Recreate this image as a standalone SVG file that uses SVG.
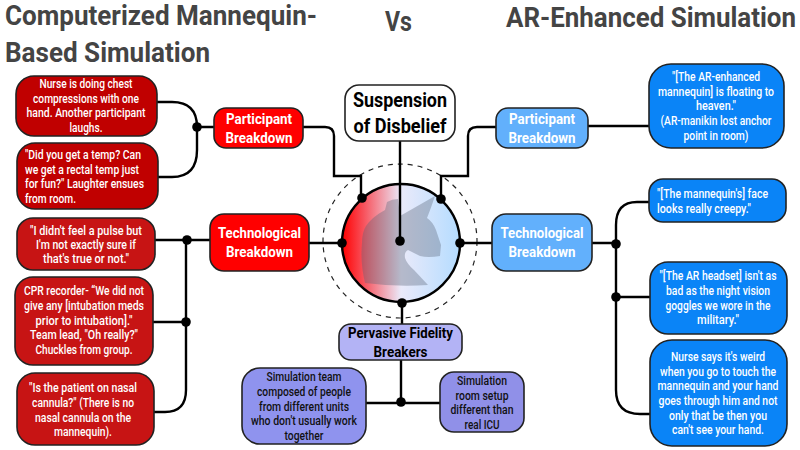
<svg xmlns="http://www.w3.org/2000/svg" width="800" height="450" viewBox="0 0 800 450">
<style>
text{font-family:Roboto,"Liberation Sans",sans-serif;text-anchor:middle}
.title{font-size:27px;font-weight:700;fill:#444;text-anchor:start}
.t{font-size:12.5px;font-weight:500;fill:#fff}
.s{text-anchor:start}
.h{font-size:15.5px;font-weight:700;fill:#fff}
.k{font-size:20px;font-weight:700;fill:#000}
.p{font-size:15.5px;font-weight:700;fill:#000}
.b{font-size:12.5px;font-weight:500;fill:#111}
.box{stroke:#222;stroke-width:1.6}
.red{fill:#c00000}.red2{fill:#c71414}.rh{fill:#ff0000}
.blu{fill:#0a84f7}.bh{fill:#62b0fc}
.line{fill:none;stroke:#000;stroke-width:2.4}
.dot{fill:#000}
</style>
<defs>
<linearGradient id="g" x1="0" x2="1" y1="0" y2="0">
<stop offset="0" stop-color="#ff0000"/><stop offset="0.18" stop-color="#f8505a"/><stop offset="0.5" stop-color="#eaeafa"/><stop offset="1" stop-color="#b4dcff"/>
</linearGradient>
</defs>
<rect width="800" height="450" fill="#fff"/>
<g id="titles">
<text class="title" x="5" y="25" textLength="312" lengthAdjust="spacingAndGlyphs">Computerized Mannequin-</text>
<text class="title" x="5" y="62" textLength="205" lengthAdjust="spacingAndGlyphs">Based Simulation</text>
<text class="title" x="385" y="31" textLength="27" lengthAdjust="spacingAndGlyphs">Vs</text>
<text class="title" x="506" y="27" textLength="290" lengthAdjust="spacingAndGlyphs">AR-Enhanced Simulation</text>
</g>
<g id="hub">
<circle cx="400" cy="241" r="77" fill="none" stroke="#222" stroke-width="1.2" stroke-dasharray="5 5"/>
<circle cx="401" cy="243" r="59" fill="url(#g)" stroke="#000" stroke-width="2.4"/>
<path d="M365,283 Q360,262 362,243 Q362,232 366,226 Q372,217 385,210 L387,202 Q392,199 398,199 L400,216 L435,196 Q431,208 427,218 Q433,222 436,230 L441,245 L440,256 Q428,258 420,256 L408,250 Q404,252 405,258 Q407,264 414,270 L428,285 Q395,287 365,283Z" fill="#5a6478" fill-opacity="0.36"/>
</g>
<g id="connectors">
<path class="line" d="M157,102H172Q197,102 197,127V150Q197,177 172,177H158M197,127H214"/>
<path class="line" d="M303,127H325Q334,127 334,136V176H361V198"/>
<path class="line" d="M400,141V241"/>
<path class="line" d="M496,127H477Q468,127 468,136V176H441V199"/>
<path class="line" d="M588,126H649"/>
<path class="line" d="M155,240H210M309,243H342M460,243H492M592,243H616"/>
<path class="line" d="M153,322H186M154,412H165Q186,412 186,390V240"/>
<path class="line" d="M649,202H637Q616,202 616,225V390Q616,414 640,414H650M616,297H650"/>
<path class="line" d="M402,303V324M401,360V402M366,403H440"/>
<circle class="dot" cx="197" cy="127" r="4.8"/>
<circle class="dot" cx="187" cy="240" r="4.8"/>
<circle class="dot" cx="186" cy="322" r="4.8"/>
<circle class="dot" cx="616" cy="244" r="4.8"/>
<circle class="dot" cx="616" cy="297" r="4.8"/>
<circle class="dot" cx="362" cy="198" r="4.8"/>
<circle class="dot" cx="441" cy="199" r="4.8"/>
<circle class="dot" cx="342" cy="243" r="4.8"/>
<circle class="dot" cx="460" cy="243" r="4.8"/>
<circle class="dot" cx="402" cy="303" r="4.8"/>
<circle class="dot" cx="400" cy="241" r="4.8"/>
<circle class="dot" cx="401" cy="402" r="4.8"/>
</g>
<g id="n-red1"><rect class="box red" x="16" y="76" width="141" height="60" rx="18"/>
<text class="t" x="86" y="88" textLength="93" lengthAdjust="spacingAndGlyphs">Nurse is doing chest</text>
<text class="t" x="86" y="103" textLength="106" lengthAdjust="spacingAndGlyphs">compressions with one</text>
<text class="t" x="86" y="117" textLength="119" lengthAdjust="spacingAndGlyphs">hand. Another participant</text>
<text class="t" x="86" y="132" textLength="33" lengthAdjust="spacingAndGlyphs">laughs.</text></g>
<g id="n-red2"><rect class="box red" x="17" y="143" width="141" height="66" rx="18"/>
<text class="t s" x="25" y="159" textLength="116" lengthAdjust="spacingAndGlyphs">"Did you get a temp? Can</text>
<text class="t s" x="25" y="174" textLength="114" lengthAdjust="spacingAndGlyphs">we get a rectal temp just</text>
<text class="t s" x="25" y="188" textLength="119" lengthAdjust="spacingAndGlyphs">for fun?" Laughter ensues</text>
<text class="t s" x="25" y="203" textLength="51" lengthAdjust="spacingAndGlyphs">from room.</text></g>
<g id="n-red3"><rect class="box red2" x="17" y="218" width="138" height="52" rx="16"/>
<text class="t" x="86" y="235" textLength="112" lengthAdjust="spacingAndGlyphs">"I didn't feel a pulse but</text>
<text class="t" x="86" y="249" textLength="100" lengthAdjust="spacingAndGlyphs">I'm not exactly sure if</text>
<text class="t" x="86" y="263" textLength="86" lengthAdjust="spacingAndGlyphs">that's true or not."</text></g>
<g id="n-red4"><rect class="box red2" x="15" y="277" width="138" height="88" rx="18"/>
<text class="t" x="84" y="295" textLength="120" lengthAdjust="spacingAndGlyphs">CPR recorder- “We did not</text>
<text class="t" x="84" y="310" textLength="120" lengthAdjust="spacingAndGlyphs">give any [intubation meds</text>
<text class="t" x="84" y="325" textLength="97" lengthAdjust="spacingAndGlyphs">prior to intubation]."</text>
<text class="t" x="84" y="339" textLength="108" lengthAdjust="spacingAndGlyphs">Team lead, "Oh really?"</text>
<text class="t" x="84" y="354" textLength="97" lengthAdjust="spacingAndGlyphs">Chuckles from group.</text></g>
<g id="n-red5"><rect class="box red2" x="17" y="373" width="137" height="72" rx="18"/>
<text class="t" x="83" y="392" textLength="108" lengthAdjust="spacingAndGlyphs">"Is the patient on nasal</text>
<text class="t" x="83" y="407" textLength="102" lengthAdjust="spacingAndGlyphs">cannula?" (There is no</text>
<text class="t" x="83" y="422" textLength="96" lengthAdjust="spacingAndGlyphs">nasal cannula on the</text>
<text class="t" x="83" y="436" textLength="58" lengthAdjust="spacingAndGlyphs">mannequin).</text></g>
<g id="n-part-l"><rect class="box rh" x="214" y="108" width="89" height="40" rx="12"/>
<text class="h" x="259" y="124" textLength="66" lengthAdjust="spacingAndGlyphs">Participant</text>
<text class="h" x="259" y="143" textLength="67" lengthAdjust="spacingAndGlyphs">Breakdown</text></g>
<g id="n-tech-l"><rect class="box rh" x="210" y="214" width="99" height="57" rx="14"/>
<text class="h" x="259.500" y="238" textLength="83" lengthAdjust="spacingAndGlyphs">Technological</text>
<text class="h" x="259.500" y="257" textLength="67" lengthAdjust="spacingAndGlyphs">Breakdown</text></g>
<g id="n-suspension"><rect class="box" fill="#fff" x="345" y="85" width="110" height="56" rx="14"/>
<text class="k" x="400" y="107" textLength="94" lengthAdjust="spacingAndGlyphs">Suspension</text>
<text class="k" x="400" y="133" textLength="93" lengthAdjust="spacingAndGlyphs">of Disbelief</text></g>
<g id="n-part-r"><rect class="box bh" x="496" y="108" width="92" height="40" rx="12"/>
<text class="h" x="542" y="124" textLength="66" lengthAdjust="spacingAndGlyphs">Participant</text>
<text class="h" x="542" y="143" textLength="67" lengthAdjust="spacingAndGlyphs">Breakdown</text></g>
<g id="n-tech-r"><rect class="box bh" x="492" y="214" width="100" height="57" rx="14"/>
<text class="h" x="542" y="238" textLength="83" lengthAdjust="spacingAndGlyphs">Technological</text>
<text class="h" x="542" y="257" textLength="67" lengthAdjust="spacingAndGlyphs">Breakdown</text></g>
<g id="n-blue1"><rect class="box blu" x="649" y="64" width="135" height="84" rx="22"/>
<text class="t" x="716" y="81" textLength="88" lengthAdjust="spacingAndGlyphs">"[The AR-enhanced</text>
<text class="t" x="716" y="96" textLength="116" lengthAdjust="spacingAndGlyphs">mannequin] is floating to</text>
<text class="t" x="716" y="110" textLength="40" lengthAdjust="spacingAndGlyphs">heaven."</text>
<text class="t" x="716" y="125" textLength="111" lengthAdjust="spacingAndGlyphs">(AR-manikin lost anchor</text>
<text class="t" x="716" y="140" textLength="65" lengthAdjust="spacingAndGlyphs">point in room)</text></g>
<g id="n-blue2"><rect class="box blu" x="649" y="179" width="137" height="43" rx="14"/>
<text class="t s" x="657" y="198" textLength="111" lengthAdjust="spacingAndGlyphs">"[The mannequin's] face</text>
<text class="t s" x="657" y="213" textLength="94" lengthAdjust="spacingAndGlyphs">looks really creepy."</text></g>
<g id="n-blue3"><rect class="box blu" x="650" y="262" width="137" height="72" rx="18"/>
<text class="t" x="718" y="280" textLength="117" lengthAdjust="spacingAndGlyphs">"[The AR headset] isn't as</text>
<text class="t" x="718" y="295" textLength="104" lengthAdjust="spacingAndGlyphs">bad as the night vision</text>
<text class="t" x="718" y="310" textLength="105" lengthAdjust="spacingAndGlyphs">goggles we wore in the</text>
<text class="t" x="718" y="324" textLength="42" lengthAdjust="spacingAndGlyphs">military."</text></g>
<g id="n-blue4"><rect class="box blu" x="650" y="340" width="137" height="106" rx="22"/>
<text class="t" x="718" y="361" textLength="94" lengthAdjust="spacingAndGlyphs">Nurse says it's weird</text>
<text class="t" x="718" y="376" textLength="116" lengthAdjust="spacingAndGlyphs">when you go to touch the</text>
<text class="t" x="718" y="390" textLength="121" lengthAdjust="spacingAndGlyphs">mannequin and your hand</text>
<text class="t" x="718" y="405" textLength="119" lengthAdjust="spacingAndGlyphs">goes through him and not</text>
<text class="t" x="718" y="420" textLength="98" lengthAdjust="spacingAndGlyphs">only that be then you</text>
<text class="t" x="718" y="434" textLength="92" lengthAdjust="spacingAndGlyphs">can't see your hand.</text></g>
<g id="n-pervasive"><rect class="box" fill="#b3b3f5" x="339" y="324" width="123" height="36" rx="12"/>
<text class="p" x="400.500" y="338" textLength="105" lengthAdjust="spacingAndGlyphs">Pervasive Fidelity</text>
<text class="p" x="400.500" y="357" textLength="54" lengthAdjust="spacingAndGlyphs">Breakers</text></g>
<g id="n-team"><rect class="box" fill="#8f93ee" x="242" y="368" width="124" height="76" rx="18"/>
<text class="b" x="304" y="381" textLength="75" lengthAdjust="spacingAndGlyphs">Simulation team</text>
<text class="b" x="304" y="396" textLength="94" lengthAdjust="spacingAndGlyphs">composed of people</text>
<text class="b" x="304" y="411" textLength="90" lengthAdjust="spacingAndGlyphs">from different units</text>
<text class="b" x="304" y="425" textLength="106" lengthAdjust="spacingAndGlyphs">who don't usually work</text>
<text class="b" x="304" y="440" textLength="39" lengthAdjust="spacingAndGlyphs">together</text></g>
<g id="n-room"><rect class="box" fill="#9090e8" x="440" y="372" width="84" height="60" rx="14"/>
<text class="b" x="482" y="385" textLength="50" lengthAdjust="spacingAndGlyphs">Simulation</text>
<text class="b" x="482" y="400" textLength="53" lengthAdjust="spacingAndGlyphs">room setup</text>
<text class="b" x="482" y="414" textLength="63" lengthAdjust="spacingAndGlyphs">different than</text>
<text class="b" x="482" y="429" textLength="35" lengthAdjust="spacingAndGlyphs">real ICU</text></g>
</svg>
